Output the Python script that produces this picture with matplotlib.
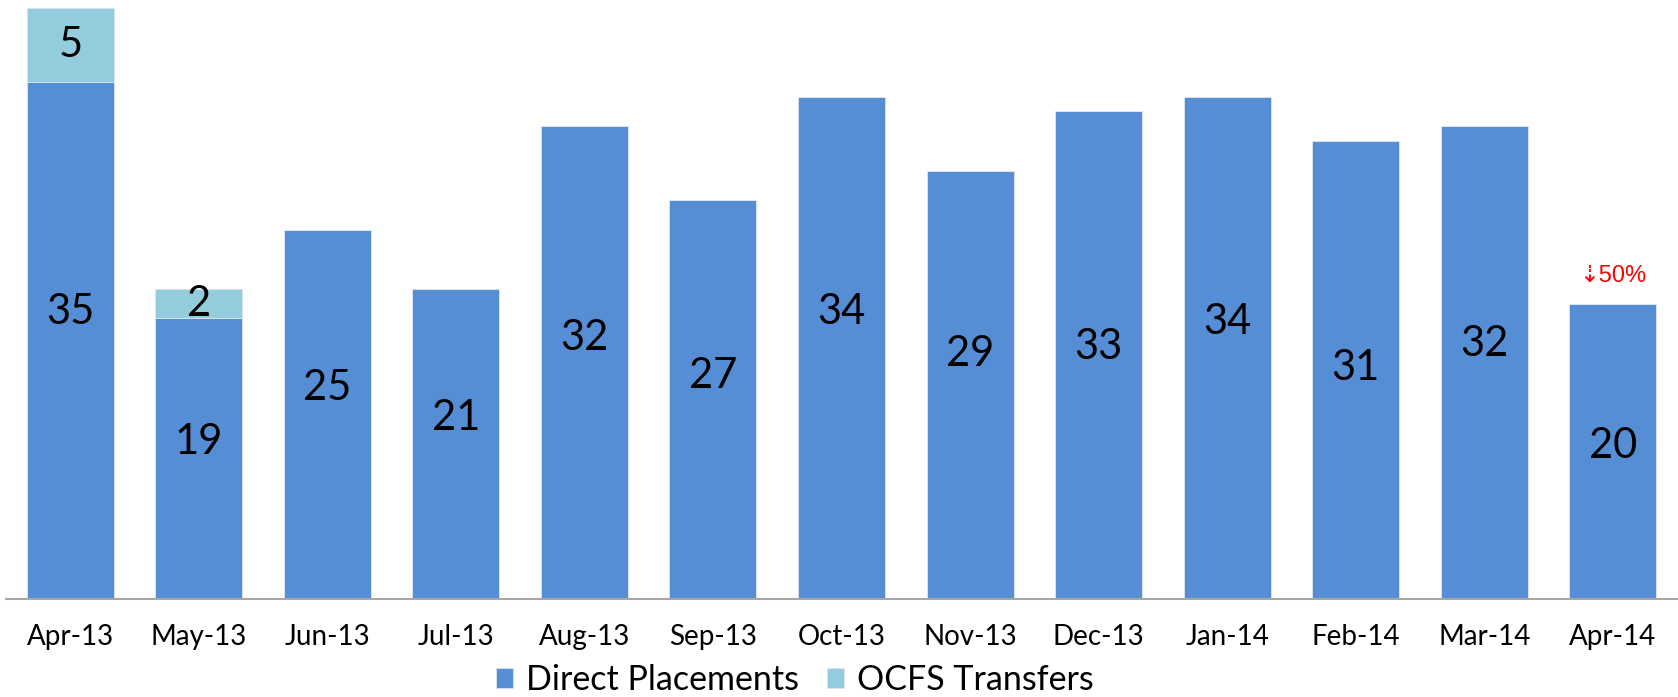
import matplotlib.pyplot as plt
import numpy as np

months = ['Apr-13', 'May-13', 'Jun-13', 'Jul-13', 'Aug-13', 'Sep-13', 'Oct-13',
          'Nov-13', 'Dec-13', 'Jan-14', 'Feb-14', 'Mar-14', 'Apr-14']
direct = [35, 19, 25, 21, 32, 27, 34, 29, 33, 34, 31, 32, 20]
ocfs = [5, 2, 0, 0, 0, 0, 0, 0, 0, 0, 0, 0, 0]
# height (data units) where the direct placement labels sit in the original
direct_label_y = [19.45, 10.6, 14.25, 12.25, 17.65, 15.1, 19.4, 16.6, 17.05, 18.75, 15.65, 17.25, 10.35]
change_note = '\u21e350%'

c_direct = '#558ed5'
c_ocfs = '#93cddd'
font = 'Lato'

fig = plt.figure(figsize=(16.78, 6.97), dpi=100)
ax = fig.add_axes([6/1678, 98/697, 1671/1678, 591/697])

x = np.arange(len(months))
w = 0.677
b1 = ax.bar(x, direct, w, color=c_direct, edgecolor='#dce6f2', linewidth=0.6,
            label='Direct Placements')
b2 = ax.bar(x, ocfs, w, bottom=direct, color=c_ocfs, edgecolor='#dce6f2',
            linewidth=0.6, label='OCFS Transfers')

for i in range(len(months)):
  ax.text(x[i], direct_label_y[i], str(direct[i]), ha='center', va='center',
          fontsize=30, family=font, color='black')
  if ocfs[i] > 0:
    ax.text(x[i], direct[i] + ocfs[i] / 2.0, str(ocfs[i]), ha='center',
            va='center', fontsize=30, family=font, color='black')

# drop annotation over the last bar
ax.annotate(change_note, (x[-1], direct[-1] + ocfs[-1]), xytext=(0, 20),
            textcoords='offset points', ha='center', va='center',
            fontsize=17, color='red', family=['Liberation Sans', 'DejaVu Sans'])

ax.set_xlim(-0.5, len(months) - 0.5)
ax.set_ylim(0, 40)
ax.set_xticks(x)
ax.set_xticklabels(months, fontsize=20, family=font)
ax.tick_params(axis='x', length=0, pad=18)
ax.set_yticks([])
for s in ['top', 'right', 'left']:
  ax.spines[s].set_visible(False)
ax.spines['bottom'].set_color('#a6a6a6')
ax.spines['bottom'].set_linewidth(1.5)

fig.legend(handles=[b1, b2], loc='center', bbox_to_anchor=(795/1678, 17/697),
           ncol=2, frameon=False, prop={'family': font, 'size': 24.5},
           handlelength=0.5, handleheight=0.5, handletextpad=0.38,
           columnspacing=0.82, borderpad=0.1)

fig.savefig('out.png', dpi=100)
